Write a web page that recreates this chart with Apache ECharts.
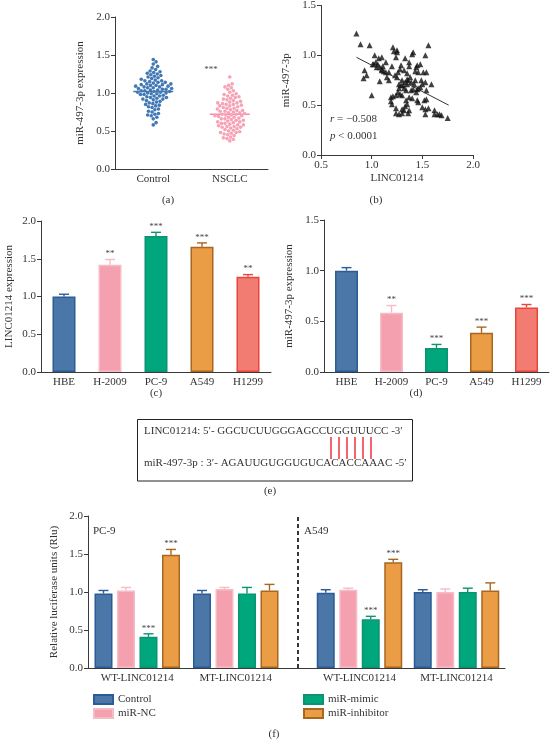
<!DOCTYPE html>
<html>
<head>
<meta charset="utf-8">
<script src="https://cdn.jsdelivr.net/npm/echarts@6/dist/echarts.min.js"></script>
<style>
  html, body { margin: 0; padding: 0; background: #fff; }
  #chart { width: 552px; height: 740px; }
</style>
</head>
<body>
<div id="chart"></div>
<script>
// ---- data ----
// (a) miR-497-3p expression, one value per dot
const controlVals = [
  1.44, 1.41, 1.38,
  1.35, 1.33, 1.31, 1.29, 1.28,
  1.27, 1.26, 1.25, 1.24, 1.23, 1.22, 1.21, 1.20, 1.19, 1.18,
  1.17, 1.16, 1.16, 1.15, 1.14, 1.14, 1.13, 1.12, 1.12, 1.11, 1.11,
  1.10, 1.10, 1.09, 1.09, 1.08, 1.08, 1.07, 1.07, 1.06, 1.06, 1.05, 1.05, 1.04,
  1.04, 1.03, 1.03, 1.02, 1.02, 1.01, 1.01, 1.00, 1.00, 0.99, 0.99, 0.98, 0.98,
  0.97, 0.96, 0.96, 0.95, 0.94, 0.94, 0.93, 0.92, 0.92,
  0.91, 0.90, 0.89, 0.88, 0.87, 0.86, 0.85, 0.84, 0.83, 0.82,
  0.81, 0.79, 0.78, 0.76, 0.75, 0.73, 0.72,
  0.71, 0.70, 0.68, 0.66,
  0.61, 0.58
];
const nsclcVals = [
  1.21,
  1.12, 1.10, 1.08, 1.07,
  1.05, 1.03, 1.01, 0.99, 0.98,
  0.97, 0.96, 0.95, 0.94, 0.93, 0.92, 0.91, 0.90, 0.89, 0.88,
  0.87, 0.87, 0.86, 0.85, 0.85, 0.84, 0.83, 0.83, 0.82, 0.81, 0.80, 0.80, 0.79, 0.78,
  0.77, 0.77, 0.76, 0.76, 0.75, 0.74, 0.74, 0.73, 0.72, 0.72, 0.71, 0.71, 0.70,
  0.70, 0.69, 0.68, 0.68, 0.67, 0.66, 0.66, 0.65, 0.64, 0.64, 0.63, 0.62, 0.62,
  0.61, 0.60, 0.60, 0.59, 0.58, 0.58, 0.57, 0.56, 0.56, 0.55, 0.55, 0.54,
  0.53, 0.52, 0.51, 0.50, 0.49, 0.48, 0.48, 0.47, 0.46, 0.45,
  0.44, 0.42, 0.41, 0.40, 0.39, 0.37
];
const groupsA = ['Control', 'NSCLC'];
const mediansA = [1.02, 0.72];

// (b) LINC01214 vs miR-497-3p
const bX = [
  0.85, 0.89, 0.98, 1.03, 0.93, 0.95, 0.92, 1.00, 1.01, 1.04,
  1.07, 1.10, 1.06, 1.08, 1.11, 1.14, 1.08, 1.12, 1.10, 1.15,
  1.17, 1.20, 1.21, 1.22, 1.25, 1.25, 1.24, 1.19, 1.21, 1.19,
  1.20, 1.23, 1.25, 1.26, 1.28, 1.29, 1.33, 1.37, 1.40, 1.41,
  1.32, 1.30, 1.27, 1.29, 1.27, 1.28, 1.30, 1.32, 1.34, 1.35,
  1.36, 1.38, 1.39, 1.35, 1.33, 1.31, 1.30, 1.32, 1.27, 1.30,
  1.36, 1.37, 1.35, 1.34, 1.37, 1.40, 1.39, 1.41, 1.43, 1.44,
  1.45, 1.48, 1.46, 1.49, 1.50, 1.51, 1.53, 1.45, 1.46, 1.48,
  1.44, 1.45, 1.46, 1.50, 1.53, 1.52, 1.54, 1.53, 1.56, 1.53,
  1.56, 1.54, 1.54, 1.59, 1.62, 1.62, 1.65, 1.67, 1.69, 1.75,
  1.24, 1.24, 1.33, 1.43, 1.35, 1.17, 1.14, 1.10, 1.05, 1.02, 1.37, 1.42, 1.26, 1.24
];
const bY = [
  1.22, 1.11, 1.10, 1.00, 0.85, 0.80, 0.77, 0.60, 0.91, 0.93,
  0.97, 0.98, 0.91, 0.88, 0.89, 0.93, 0.74, 0.84, 0.85, 0.78,
  0.75, 0.89, 1.08, 1.04, 1.05, 1.03, 0.98, 0.58, 0.59, 0.54,
  0.51, 0.80, 0.78, 0.83, 0.86, 0.90, 0.97, 0.89, 1.01, 1.03,
  0.85, 0.75, 0.71, 0.70, 0.67, 0.61, 0.60, 0.67, 0.65, 0.71,
  0.75, 0.78, 0.73, 0.76, 0.73, 0.70, 0.46, 0.45, 0.41, 0.42,
  0.42, 0.45, 0.51, 0.55, 0.58, 0.57, 0.65, 0.66, 0.75, 0.88,
  0.90, 0.91, 0.83, 0.75, 0.71, 0.83, 0.73, 0.66, 0.67, 0.68,
  0.63, 0.55, 0.53, 0.48, 0.46, 0.55, 0.56, 0.41, 0.47, 1.00,
  1.10, 0.83, 0.65, 0.71, 0.45, 0.41, 0.41, 0.41, 0.40, 0.37,
  0.47, 0.42, 0.49, 0.84, 0.82, 0.83, 0.83, 0.86, 0.88, 0.91, 0.93, 0.71, 0.63, 0.60
];
const fitLine = [[0.85, 0.98], [1.76, 0.50]];

// (c) / (d) cell lines
const cellLines = ['HBE', 'H-2009', 'PC-9', 'A549', 'H1299'];
const lincMean = [1.00, 1.42, 1.80, 1.66, 1.26];
const lincUpper = [1.03, 1.49, 1.85, 1.71, 1.29];
const lincStars = ['', '**', '***', '***', '**'];
const mirMean = [1.00, 0.585, 0.236, 0.387, 0.637];
const mirUpper = [1.03, 0.656, 0.272, 0.443, 0.666];
const mirStars = ['', '**', '***', '***', '***'];

// (f) luciferase, rows = treatment, columns = [WT, MT]
const constructs = ['WT-LINC01214', 'MT-LINC01214'];
const treatments = ['Control', 'miR-NC', 'miR-mimic', 'miR-inhibitor'];
const pc9Mean  = [[0.98, 0.98], [1.02, 1.04], [0.41, 0.98], [1.49, 1.02]];
const pc9Upper = [[1.02, 1.02], [1.06, 1.06], [0.45, 1.06], [1.56, 1.10]];
const pc9Stars = [['', ''], ['', ''], ['***', ''], ['***', '']];
const a549Mean  = [[0.99, 1.00], [1.03, 1.00], [0.64, 1.00], [1.39, 1.02]];
const a549Upper = [[1.03, 1.03], [1.05, 1.04], [0.68, 1.05], [1.43, 1.12]];
const a549Stars = [['', ''], ['', ''], ['***', ''], ['***', '']];

// ---- styling ----
const FONT = '"Liberation Serif", "Times New Roman", serif';
const AX = '#3a3a3a';
const TXT = '#333';
const fillCols = ['#4a76a8', '#f5a0ae', '#00a67c', '#eb9d46', '#f27b72'];
const edgeCols = ['#2a5d96', '#f6bcc6', '#0b9470', '#a9661f', '#e8463c'];

const chart = echarts.init(document.getElementById('chart'));

function valAxis(gridIndex, max, extra) {
  return Object.assign({
    type: 'value', gridIndex: gridIndex, min: 0, max: max, interval: 0.5,
    axisLine: { show: true, lineStyle: { color: AX, width: 1 } },
    axisTick: { show: true, length: 4, lineStyle: { color: AX } },
    splitLine: { show: false },
    axisLabel: { fontFamily: FONT, fontSize: 11, color: TXT, margin: 5, formatter: v => v.toFixed(1) },
    nameLocation: 'middle',
    nameTextStyle: { fontFamily: FONT, fontSize: 11, color: TXT }
  }, extra || {});
}
function catAxis(gridIndex, data, extra) {
  return Object.assign({
    type: 'category', gridIndex: gridIndex, data: data,
    axisLine: { show: true, lineStyle: { color: AX, width: 1 } },
    axisTick: { show: false },
    axisLabel: { fontFamily: FONT, fontSize: 11, color: TXT, margin: 5 }
  }, extra || {});
}

// beeswarm layout: shift each dot sideways until it no longer overlaps
const pxPerUnitA = 152 / 2.0;
const DOT = 3.6;
function swarm(vals) {
  const pts = vals.slice().sort((a, b) => a - b).map(v => ({ v: v, y: v * pxPerUnitA, dx: 0 }));
  const placed = [];
  pts.forEach(p => {
    for (let k = 0; k < 400; k++) {
      const cands = k === 0 ? [0] : [k * 0.4, -k * 0.4];
      let ok = null;
      for (const c of cands) {
        const hit = placed.some(q => Math.abs(q.y - p.y) < DOT &&
          (c - q.dx) * (c - q.dx) + (p.y - q.y) * (p.y - q.y) < DOT * DOT * 0.98);
        if (!hit) { ok = c; break; }
      }
      if (ok !== null) { p.dx = ok; break; }
    }
    placed.push(p);
  });
  return pts;
}

// error bar renderer shared by the bar panels
function errSeries(xi, yi, data, stars, colorOf, offsetOf) {
  return {
    type: 'custom', xAxisIndex: xi, yAxisIndex: yi, z: 5, silent: true,
    encode: { x: 0, y: [1, 2] },
    data: data,
    renderItem: function (params, api) {
      const cat = api.value(0), k = api.value(3);
      const base = api.coord([cat, api.value(1)]);
      const top = api.coord([cat, api.value(2)]);
      const x = base[0] + offsetOf(k);
      const col = colorOf(cat, k);
      const kids = [
        { type: 'line', shape: { x1: x, y1: base[1], x2: x, y2: top[1] }, style: { stroke: col, lineWidth: 1.4 } },
        { type: 'line', shape: { x1: x - 5, y1: top[1], x2: x + 5, y2: top[1] }, style: { stroke: col, lineWidth: 1.4 } }
      ];
      const s = stars[params.dataIndex];
      if (s) {
        kids.push({ type: 'text', style: { text: s, x: x, y: top[1] - 1, align: 'center', verticalAlign: 'bottom',
          font: '9px ' + FONT, fill: '#444' } });
      }
      return { type: 'group', children: kids };
    }
  };
}

const series = [];

// (a)
[controlVals, nsclcVals].forEach((vals, gi) => {
  series.push({
    type: 'scatter', xAxisIndex: 0, yAxisIndex: 0, symbol: 'circle', symbolSize: DOT,
    itemStyle: { color: gi === 0 ? '#4178b6' : '#f6a3b6', opacity: 1 },
    data: swarm(vals).map(p => ({ value: [gi, p.v], symbolOffset: [p.dx, 0] }))
  });
});
series.push({
  type: 'custom', xAxisIndex: 0, yAxisIndex: 0, z: 1, silent: true,
  data: mediansA.map((m, i) => [i, m]),
  renderItem: function (params, api) {
    const p = api.coord([api.value(0), api.value(1)]);
    return { type: 'line', shape: { x1: p[0] - 20, y1: p[1], x2: p[0] + 20, y2: p[1] },
      style: { stroke: api.value(0) === 0 ? '#4178b6' : '#f58ca4', lineWidth: 1.5 } };
  }
});

// (b)
series.push({
  type: 'scatter', xAxisIndex: 1, yAxisIndex: 1, symbol: 'triangle', symbolSize: 6,
  itemStyle: { color: '#111' },
  data: bX.map((x, i) => [x, bY[i]])
});
series.push({
  type: 'line', xAxisIndex: 1, yAxisIndex: 1, symbol: 'none',
  lineStyle: { color: '#333', width: 1 }, data: fitLine
});

// (c) and (d)
function cellBars(xi, means) {
  return {
    type: 'bar', xAxisIndex: xi, yAxisIndex: xi, barWidth: 23,
    data: means.map((v, i) => ({ value: v, itemStyle: { color: fillCols[i], borderColor: edgeCols[i], borderWidth: 1.5 } }))
  };
}
series.push(cellBars(2, lincMean));
series.push(errSeries(2, 2, lincMean.map((v, i) => [i, v, lincUpper[i], 0]), lincStars, c => edgeCols[c], () => 0));
series.push(cellBars(3, mirMean));
series.push(errSeries(3, 3, mirMean.map((v, i) => [i, v, mirUpper[i], 0]), mirStars, c => edgeCols[c], () => 0));

// (f)
const barW = 18, barGapPx = 4.5;
const offF = k => (k - 1.5) * (barW + barGapPx);
[[4, pc9Mean, pc9Upper, pc9Stars], [5, a549Mean, a549Upper, a549Stars]].forEach(cfg => {
  const gi = cfg[0], mean = cfg[1], up = cfg[2], st = cfg[3];
  treatments.forEach((name, k) => {
    series.push({
      type: 'bar', name: name, xAxisIndex: gi, yAxisIndex: gi, barWidth: barW, barGap: '25%',
      itemStyle: { color: fillCols[k], borderColor: edgeCols[k], borderWidth: 1.5 },
      data: mean[k]
    });
  });
  const d = [], s = [];
  treatments.forEach((name, k) => {
    constructs.forEach((c, ci) => { d.push([ci, mean[k][ci], up[k][ci], k]); s.push(st[k][ci]); });
  });
  series.push(errSeries(gi, gi, d, s, (c, k) => edgeCols[k], offF));
});

const txt = (text, x, y, extra) => ({
  type: 'text', silent: true,
  style: Object.assign({ text: text, x: x, y: y, font: '11px ' + FONT, fill: TXT, align: 'center', verticalAlign: 'middle' }, extra || {})
});
// pairing marks between the two strands
const redX = [331, 339, 347, 355, 363, 371];

const option = {
  animation: false,
  backgroundColor: '#fff',
  grid: [
    { left: 115, top: 17, width: 153, height: 152 },
    { left: 321, top: 4, width: 152, height: 151 },
    { left: 41, top: 221, width: 230, height: 151 },
    { left: 324, top: 220, width: 225, height: 152 },
    { left: 88, top: 516, width: 197, height: 152 },
    { left: 311, top: 516, width: 194, height: 152 }
  ],
  xAxis: [
    catAxis(0, groupsA),
    valAxis(1, 2.0, { min: 0.5, name: 'LINC01214', nameGap: 18 }),
    catAxis(2, cellLines),
    catAxis(3, cellLines),
    catAxis(4, constructs),
    catAxis(5, constructs)
  ],
  yAxis: [
    valAxis(0, 2.0, { name: 'miR-497-3p expression', nameGap: 29 }),
    valAxis(1, 1.5, { name: 'miR-497-3p', nameGap: 29 }),
    valAxis(2, 2.0, { name: 'LINC01214 expression', nameGap: 26 }),
    valAxis(3, 1.5, { name: 'miR-497-3p expression', nameGap: 29 }),
    valAxis(4, 2.0, { name: 'Relative luciferase units (Rlu)', nameGap: 28 }),
    valAxis(5, 2.0, { show: false })
  ],
  legend: [
    { data: ['Control', 'miR-NC'], orient: 'vertical', left: 88, top: 689, itemWidth: 19, itemHeight: 9, itemGap: 3,
      icon: 'rect', textStyle: { fontFamily: FONT, fontSize: 11, color: TXT } },
    { data: ['miR-mimic', 'miR-inhibitor'], orient: 'vertical', left: 298, top: 689, itemWidth: 19, itemHeight: 9, itemGap: 3,
      icon: 'rect', textStyle: { fontFamily: FONT, fontSize: 11, color: TXT } }
  ],
  series: series,
  graphic: [
    // panel letters
    txt('(a)', 168, 200), txt('(b)', 376, 200), txt('(c)', 156, 393), txt('(d)', 416, 393),
    txt('(e)', 270, 491), txt('(f)', 274, 734),
    // (a) significance
    txt('***', 211, 70, { font: '9px ' + FONT, fill: '#444' }),
    // (b) statistics
    txt('{i|r} = \u22120.508', 330, 119, { align: 'left', rich: { i: { fontStyle: 'italic', fontFamily: FONT, fontSize: 11, fill: TXT } } }),
    txt('{i|p} < 0.0001', 330, 136, { align: 'left', rich: { i: { fontStyle: 'italic', fontFamily: FONT, fontSize: 11, fill: TXT } } }),
    // (e) sequence alignment box
    { type: 'rect', silent: true, shape: { x: 137.5, y: 419.5, width: 275, height: 61.5 }, style: { fill: 'none', stroke: '#222', lineWidth: 1 } },
    txt('LINC01214: 5\u2032- GGCUCUUGGGAGCCUGGUUUCC -3\u2032', 144, 431, { align: 'left' }),
    txt('miR-497-3p : 3\u2032- AGAUUGUGGUGUCACACCAAAC -5\u2032', 144, 463, { align: 'left' }),
    ...redX.map(x => ({ type: 'rect', silent: true, z: 10, shape: { x: x - 0.75, y: 437, width: 1.5, height: 22 }, style: { fill: '#f0303c' } })),
    // (f) divider, axis bridge and cell labels
    { type: 'line', silent: true, shape: { x1: 298, y1: 517, x2: 298, y2: 668 }, style: { stroke: '#222', lineWidth: 1.8, lineDash: [4, 3] } },
    { type: 'line', silent: true, shape: { x1: 285, y1: 668.5, x2: 311, y2: 668.5 }, style: { stroke: AX, lineWidth: 1 } },
    txt('PC-9', 93, 531, { align: 'left' }),
    txt('A549', 304, 531, { align: 'left' })
  ]
};

chart.setOption(option);
</script>
</body>
</html>
